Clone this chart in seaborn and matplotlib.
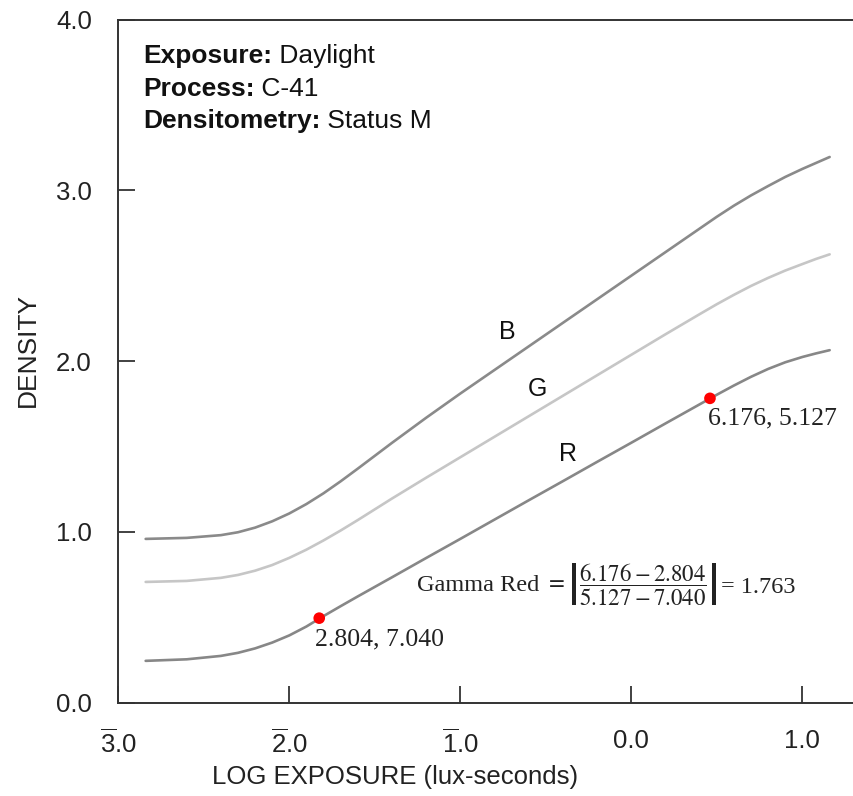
import matplotlib
matplotlib.use("Agg")
import matplotlib.pyplot as plt
import seaborn as sns
import pandas as pd

# 特性曲線 (読み取り値)
log_exposure = [-2.84, -2.6, -2.4, -2.3, -2.2, -2.1, -2.0, -1.9, -1.8, -1.7, -1.6, -1.4,
                -1.2, -1.0, -0.8, -0.6, -0.4, -0.2, 0.0, 0.2, 0.4, 0.5, 0.6, 0.7,
                0.8, 0.9, 1.0, 1.08, 1.16]
density_b = [0.959, 0.965, 0.981, 0.998, 1.025, 1.062, 1.108, 1.163, 1.226, 1.296, 1.370, 1.521,
             1.668, 1.810, 1.948, 2.086, 2.224, 2.362, 2.500, 2.638, 2.776, 2.845, 2.910, 2.970,
             3.025, 3.078, 3.125, 3.160, 3.195]
density_g = [0.707, 0.713, 0.731, 0.748, 0.773, 0.806, 0.848, 0.896, 0.950, 1.008, 1.069, 1.195,
             1.317, 1.437, 1.557, 1.677, 1.797, 1.917, 2.037, 2.157, 2.275, 2.333, 2.388, 2.440,
             2.487, 2.530, 2.568, 2.598, 2.625]
density_r = [0.245, 0.254, 0.274, 0.292, 0.318, 0.352, 0.394, 0.446, 0.507, 0.565, 0.622, 0.734,
             0.847, 0.959, 1.072, 1.185, 1.297, 1.410, 1.522, 1.635, 1.747, 1.803, 1.857, 1.908,
             1.954, 1.993, 2.024, 2.045, 2.064]

# ガンマ計算用の点
gamma_x = [-1.825, 0.460]
gamma_y = [0.495, 1.782]
gamma_labels = ["2.804, 7.040", "6.176, 5.127"]

curve_names = ["B", "G", "R"]
curve_colors = {"B": "#8a8a8a", "G": "#c6c6c6", "R": "#878787"}

x_ticks = [-3, -2, -1, 0, 1]
x_ticklabels = [r"$\overline{\mathrm{3}}$.0", r"$\overline{\mathrm{2}}$.0",
                r"$\overline{\mathrm{1}}$.0", "0.0", "1.0"]
y_ticks = [0, 1, 2, 3, 4]
y_ticklabels = ["0.0", "1.0", "2.0", "3.0", "4.0"]

sns.set_theme(style="white")
plt.rcParams["font.family"] = ["Liberation Sans", "DejaVu Sans"]
plt.rcParams["mathtext.fontset"] = "custom"
plt.rcParams["mathtext.rm"] = "Liberation Sans"

df = pd.concat([
    pd.DataFrame({"logE": log_exposure, "density": vals, "layer": name})
    for name, vals in zip(curve_names, [density_b, density_g, density_r])
])

fig = plt.figure(figsize=(8.54, 7.96), dpi=100)
ax = fig.add_axes([118.3 / 854, (796 - 702.7) / 796, (854 - 118.3) / 854, 683.2 / 796])

sns.lineplot(data=df, x="logE", y="density", hue="layer", palette=curve_colors,
             linewidth=1.9, legend=False, ax=ax, estimator=None)
sns.scatterplot(x=gamma_x, y=gamma_y, color="#ff0000", s=70, edgecolor="none",
                ax=ax, zorder=5)

ax.set_xlim(-3, -3 + 735.7 / 171)
ax.set_ylim(0, 4.0)

for side in ["left", "bottom", "top"]:
    ax.spines[side].set_visible(True)
    ax.spines[side].set_color("#333333")
    ax.spines[side].set_linewidth(1.4)
ax.spines["right"].set_visible(False)

ax.set_xticks(x_ticks)
ax.set_xticklabels(x_ticklabels)
ax.set_yticks(y_ticks)
ax.set_yticklabels(y_ticklabels)
ax.tick_params(axis="both", direction="in", length=12, width=1.3, color="#333333",
               labelsize=18.5, labelcolor="#222222")
ax.tick_params(axis="y", pad=19, left=True)
ax.tick_params(axis="x", pad=19, bottom=True)

ax.set_xlabel("LOG EXPOSURE (lux-seconds)", fontsize=18.5, color="#222222")
ax.xaxis.label.set_va("center")
ax.xaxis.set_label_coords((395 - 118.3) / 735.7, (702.7 - 777) / 683.2)
ax.set_ylabel("DENSITY", fontsize=19, color="#222222")
ax.yaxis.label.set_va("center")
ax.yaxis.set_label_coords((28 - 118.3) / 735.7, (702.7 - 350) / 683.2)

# 条件の注記
header = [("Exposure:", " Daylight"), ("Process:", " C-41"), ("Densitometry:", " Status M")]
for i, (bold_part, rest) in enumerate(header):
    y = (702.7 - (63 + 32.5 * i)) / 683.2
    t = ax.text((143 - 118.3) / 735.7, y, bold_part, transform=ax.transAxes,
                fontsize=19, fontweight="bold", va="baseline", ha="left", color="#111111")
    ax.annotate(rest, xy=(1, 0), xycoords=t, va="bottom", ha="left",
                fontsize=19, color="#111111")

# 曲線ラベル
ax.text(-0.727, 2.170, "B", fontsize=18, ha="center", va="center", color="#111111")
ax.text(-0.546, 1.835, "G", fontsize=18, ha="center", va="center", color="#111111")
ax.text(-0.371, 1.454, "R", fontsize=18, ha="center", va="center", color="#111111")

serif = ["Liberation Serif", "DejaVu Serif"]
ax.text(-1.850, 0.333, gamma_labels[0], fontsize=18.5, family=serif, ha="left",
        va="baseline", color="#222222")
ax.text(0.447, 1.630, gamma_labels[1], fontsize=18.5, family=serif, ha="left",
        va="baseline", color="#222222")

# ガンマの式
g = ax.text(-1.253, 0.702, "Gamma Red ", fontsize=17.5, family=serif, ha="left",
            va="center_baseline", color="#222222")
frac = ax.annotate(r"$=\left|\dfrac{6.176 - 2.804}{5.127 - 7.040}\right|$", xy=(1, 0.5),
                   xycoords=g, fontsize=16.5, math_fontfamily="stix", ha="left",
                   va="center", color="#222222")
ax.annotate("= 1.763", xy=(1, 0.5), xycoords=frac, xytext=(2, 0),
            textcoords="offset points", fontsize=17.5, family=serif, ha="left",
            va="center_baseline", color="#222222")

fig.savefig("out.png", dpi=100)
